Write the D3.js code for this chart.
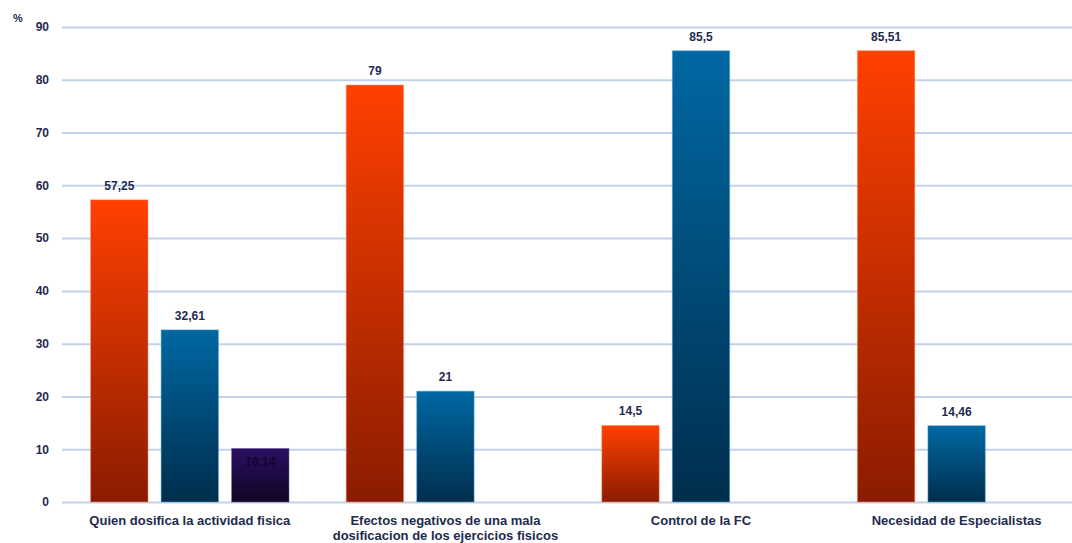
<!DOCTYPE html>
<html>
<head>
<meta charset="utf-8">
<script src="https://cdn.jsdelivr.net/npm/d3@7"></script>
<style>
  body { margin: 0; background: #fff; }
  text { font-family: "Liberation Sans", Arial, sans-serif; }
</style>
</head>
<body>
<div id="chart"></div>
<script>
// data
var categories = [
    ["Quien dosifica la actividad fisica"],
    ["Efectos negativos de una mala", "dosificacion de los ejercicios fisicos"],
    ["Control de la FC"],
    ["Necesidad de Especialistas"]
];
var serie1 = [57.25, 79, 14.5, 85.51];
var serie2 = [32.61, 21, 85.5, 14.46];
var serie3 = [10.14, null, null, null];
var yTicks = [0, 10, 20, 30, 40, 50, 60, 70, 80, 90];

var width = 1072, height = 543;
var margin = {top: 27, right: 0, bottom: 41, left: 62};

var svg = d3.select("#chart").append("svg")
    .attr("width", width)
    .attr("height", height);

var locale = d3.formatLocale({decimal: ",", thousands: ".", grouping: [3], currency: ["", ""]});
var fmt = function(v) { return locale.format("~f")(v); };

var x = d3.scaleBand()
    .domain(d3.range(categories.length))
    .range([margin.left, margin.left + 4 * 255.6])
    .padding(0);

var xs = d3.scaleBand()
    .domain([0, 1, 2])
    .range([x.bandwidth() / 2 - 105.75, x.bandwidth() / 2 + 105.75])
    .paddingInner(0.186)
    .paddingOuter(0.093);

var y = d3.scaleLinear()
    .domain([0, 90])
    .range([height - margin.bottom, margin.top]);

// gradients
var defs = svg.append("defs");
var grads = [
    {id: "g0", top: "#ff4000", bottom: "#8a1c00"},
    {id: "g1", top: "#0068a3", bottom: "#002e4d"},
    {id: "g2", top: "#2b0f63", bottom: "#100422"}
];
grads.forEach(function(g) {
    var lg = defs.append("linearGradient")
        .attr("id", g.id)
        .attr("x1", 0).attr("y1", 0).attr("x2", 0).attr("y2", 1);
    lg.append("stop").attr("offset", "0%").attr("stop-color", g.top);
    lg.append("stop").attr("offset", "100%").attr("stop-color", g.bottom);
});

// grid lines + y axis
var yAxis = svg.append("g")
    .attr("transform", "translate(" + margin.left + ",0)")
    .call(d3.axisLeft(y).tickValues(yTicks).tickSize(-(width - margin.left)).tickPadding(13));
yAxis.select(".domain").remove();
yAxis.selectAll(".tick line")
    .attr("stroke", "#c3d2ea")
    .attr("stroke-width", 2);
yAxis.selectAll(".tick text")
    .attr("fill", "#1e2b4e")
    .style("font-size", "12px")
    .style("font-weight", "bold");

svg.append("text")
    .attr("x", 18)
    .attr("y", 22)
    .attr("text-anchor", "middle")
    .attr("fill", "#1e2b4e")
    .style("font-size", "11px")
    .style("font-weight", "bold")
    .text("%");

// bars
var rows = [];
[serie1, serie2, serie3].forEach(function(s, si) {
    s.forEach(function(v, ci) {
        if (v != null) rows.push({cat: ci, serie: si, value: v});
    });
});

var groups = svg.selectAll(".bar")
    .data(rows)
    .enter().append("g")
    .attr("class", "bar")
    .attr("transform", function(d) { return "translate(" + (x(d.cat) + xs(d.serie)) + ",0)"; });

groups.append("rect")
    .attr("x", 0)
    .attr("y", function(d) { return y(d.value); })
    .attr("width", xs.bandwidth())
    .attr("height", function(d) { return y(0) - y(d.value); })
    .attr("fill", function(d) { return "url(#g" + d.serie + ")"; })
    .attr("stroke", function(d) { return d.serie == 0 ? "#ff8a5c" : (d.serie == 1 ? "#5aa7d6" : "#6a5a9a"); })
    .attr("stroke-opacity", 0.5)
    .attr("stroke-width", 1);

groups.append("text")
    .attr("x", xs.bandwidth() / 2)
    .attr("y", function(d) {
        // small value label sits inside the bar
        return d.value < 12 ? y(d.value) + 18 : y(d.value) - 10;
    })
    .attr("text-anchor", "middle")
    .attr("fill", function(d) { return d.value < 12 ? "#120630" : "#1e2b4e"; })
    .style("font-size", "12px")
    .style("font-weight", "bold")
    .text(function(d) { return fmt(d.value); });

// category labels
var cat = svg.selectAll(".cat")
    .data(categories)
    .enter().append("text")
    .attr("class", "cat")
    .attr("x", function(d, i) { return x(i) + x.bandwidth() / 2; })
    .attr("y", 525)
    .attr("text-anchor", "middle")
    .attr("fill", "#1e2b4e")
    .style("font-size", "13px")
    .style("font-weight", "bold");

cat.selectAll("tspan")
    .data(function(d) { return d; })
    .enter().append("tspan")
    .attr("x", function() { return d3.select(this.parentNode).attr("x"); })
    .attr("dy", function(d, i) { return i == 0 ? 0 : 15; })
    .text(function(d) { return d; });
</script>
</body>
</html>
